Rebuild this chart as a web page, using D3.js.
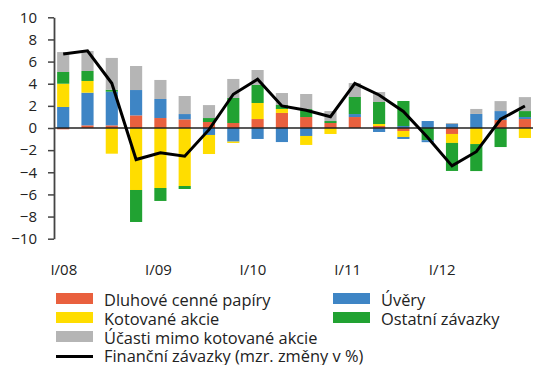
<!DOCTYPE html>
<html>
<head>
<meta charset="utf-8">
<script src="https://cdn.jsdelivr.net/npm/d3@7"></script>
<style>
  html, body { margin: 0; padding: 0; background: #fff; }
  svg { display: block; font-family: "Open Sans", sans-serif; }
</style>
</head>
<body>
<svg id="chart" width="533" height="365"></svg>
<script>
// Quarters I/08 – IV/12
const quarters = [
  "I/08","II/08","III/08","IV/08",
  "I/09","II/09","III/09","IV/09",
  "I/10","II/10","III/10","IV/10",
  "I/11","II/11","III/11","IV/11",
  "I/12","II/12","III/12","IV/12"
];
const tickLabels = ["I/08","I/09","I/10","I/11","I/12"];
const yTicks = [-10,-8,-6,-4,-2,0,2,4,6,8,10];

// Contributions (p.p.)
const dluhove  = [-0.12,0.24,0.24,1.14,0.90,0.78,0.54,0.45,0.81,1.36,0.99,0.45,0.99,0.18,-0.27,0.00,-0.54,0.00,0.72,0.81];
const uvery    = [1.90,2.95,3.04,2.29,1.72,0.48,-0.63,-1.23,-0.99,-1.27,-0.72,0.00,0.27,-0.36,0.18,0.63,0.36,1.27,0.81,0.18];
const kotovane = [2.10,1.06,-2.32,-5.60,-5.42,-5.24,-1.72,-0.12,1.45,0.36,-0.81,-0.54,0.00,0.18,-0.54,0.00,-0.81,-1.45,0.00,-0.90];
const ostatni  = [1.06,0.90,0.18,-2.89,-1.17,-0.27,0.36,2.26,1.63,0.36,0.72,0.18,1.54,1.99,2.26,-1.10,-2.53,-2.44,-1.72,0.54];
const uveryOst = [0,0,0,0,0,0,0,0,0,0,0,0,0,0,-0.18,-0.18,0,0,0,0];
const ucasti   = [1.80,1.81,2.87,2.17,1.72,1.63,1.17,1.72,1.35,1.08,1.36,0.90,1.26,0.90,0.00,0.00,0.09,0.45,0.90,1.26];
// Financial liabilities, y/y change in %
const zavazky  = [6.68,6.98,4.04,-2.85,-2.23,-2.55,-0.15,3.05,4.40,1.99,1.60,1.02,4.04,2.98,1.50,-0.85,-3.42,-2.14,0.79,1.99];

const seriesKeys = ["dluhove","uvery","kotovane","ostatni","uveryOst","ucasti"];
const seriesData = {dluhove, uvery, kotovane, ostatni, uveryOst, ucasti};
const colors = {
  dluhove: "#e9603e",
  uvery: "#3e85c5",
  kotovane: "#ffdd00",
  ostatni: "#21a232",
  uveryOst: "#3e85c5",
  ucasti: "#b5b5b5"
};

const svg = d3.select("#chart");

const x = d3.scaleBand().domain(quarters).range([51.05, 537.05])
  .paddingInner(0.5).paddingOuter(0.25);
const xLabel = d3.scaleBand().domain(quarters).range([52, 525]);
const y = d3.scaleLinear().domain([-10, 10]).range([238.7, 17.3]);

const rows = quarters.map((q, i) => {
  const r = {q};
  seriesKeys.forEach(k => r[k] = seriesData[k][i]);
  return r;
});

const stack = d3.stack().keys(seriesKeys).offset(d3.stackOffsetDiverging);
const stacked = stack(rows);

svg.append("g").selectAll("g")
  .data(stacked)
  .join("g")
  .attr("fill", d => colors[d.key])
  .selectAll("rect")
  .data(d => d)
  .join("rect")
  .attr("x", d => x(d.data.q))
  .attr("width", x.bandwidth())
  .attr("y", d => y(Math.max(d[0], d[1])))
  .attr("height", d => Math.abs(y(d[0]) - y(d[1])));

// Zero line
svg.append("line")
  .attr("x1", 54).attr("x2", 533)
  .attr("y1", y(0)).attr("y2", y(0))
  .attr("stroke", "#222").attr("stroke-width", 1.5);

// Y axis
const yAxis = svg.append("g")
  .attr("transform", "translate(54,0)")
  .call(d3.axisLeft(y).tickValues(yTicks).tickSize(6).tickSizeOuter(0).tickPadding(11));
yAxis.select(".domain").attr("stroke", "#444").attr("stroke-width", 1.8);
yAxis.selectAll(".tick line").attr("stroke", "#444").attr("stroke-width", 1.5);
yAxis.selectAll(".tick text")
  .attr("font-size", 15).attr("fill", "#222")
  .attr("font-family", "Open Sans, sans-serif");

// X labels
svg.append("g").selectAll("text")
  .data(tickLabels)
  .join("text")
  .attr("x", d => xLabel(d) + xLabel.bandwidth() / 2)
  .attr("y", 275)
  .attr("text-anchor", "middle")
  .attr("font-size", 15)
  .attr("fill", "#222")
  .text(d => d);

// Line
const line = d3.line()
  .x((d, i) => x(quarters[i]) + x.bandwidth() / 2)
  .y(d => y(d));
svg.append("path")
  .datum(zavazky)
  .attr("fill", "none")
  .attr("stroke", "#000")
  .attr("stroke-width", 3)
  .attr("stroke-linejoin", "miter")
  .attr("d", line);

// Legend
const legendItems = [
  {label: "Dluhové cenné papíry", color: colors.dluhove, x: 56, y: 293},
  {label: "Kotované akcie", color: colors.kotovane, x: 56, y: 312},
  {label: "Účasti mimo kotované akcie", color: colors.ucasti, x: 56, y: 331},
  {label: "Úvěry", color: colors.uvery, x: 333, y: 293},
  {label: "Ostatní závazky", color: colors.ostatni, x: 333, y: 312}
];
const lg = svg.append("g");
legendItems.forEach(it => {
  lg.append("rect").attr("x", it.x).attr("y", it.y).attr("width", 37).attr("height", 11).attr("fill", it.color);
  lg.append("text").attr("x", it.x + 48).attr("y", it.y + 12.5)
    .attr("font-size", 16.4).attr("fill", "#222").text(it.label);
});
lg.append("line").attr("x1", 56).attr("x2", 93).attr("y1", 356.5).attr("y2", 356.5)
  .attr("stroke", "#000").attr("stroke-width", 3);
lg.append("text").attr("x", 104).attr("y", 362)
  .attr("font-size", 16.4).attr("fill", "#222").text("Finanční závazky (mzr. změny v %)");
</script>
</body>
</html>
